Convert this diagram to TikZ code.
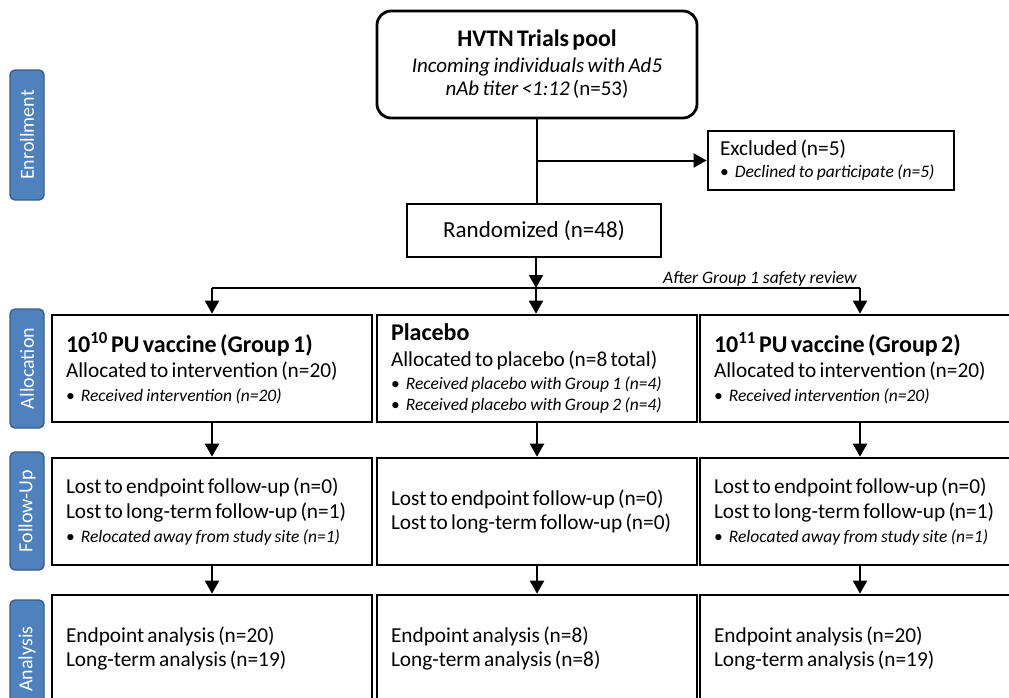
\documentclass[tikz,border=0pt]{standalone}
\usepackage{fontspec}
\setmainfont{Carlito}
\usetikzlibrary{arrows.meta}
\definecolor{sideblue}{HTML}{4F81BD}
\definecolor{sideedge}{HTML}{385D8A}
\newcommand{\ttl}[1]{{\fontsize{24}{24}\selectfont\bfseries #1\par}}
\newcommand{\lna}[2]{{\fontsize{21.3}{#1}\selectfont #2\par}}
\newcommand{\bul}[2]{{\fontsize{17.5}{#1}\selectfont\textbullet\hspace{0.35em}\textit{#2}\par}}
\begin{document}
\begin{tikzpicture}[x=1pt,y=-1pt,
  box/.style={draw, line width=2.6pt, minimum width=320pt, minimum height=107pt,
    inner xsep=13pt, inner ysep=0pt, text width=292pt, align=left},
  side/.style={draw=sideedge, fill=sideblue, line width=1.4pt, rounded corners=5pt,
    minimum height=34pt, text=white, rotate=90, inner sep=0pt,
    font=\fontsize{20}{20}\selectfont},
  conn/.style={line width=2pt},
  arr/.style={line width=2pt, -{Triangle[length=13pt,width=14pt]}}]
\useasboundingbox (0,0) rectangle (1009,697);

% side labels
\node[side, minimum width=130pt] (senr) at (27,135) {Enrollment};
\node[side, minimum width=119pt] (salloc) at (27,368.5) {Allocation};
\node[side, minimum width=118pt] (sfol) at (27,511) {Follow-Up};
\node[side, minimum width=118pt] (sana) at (27,659) {Analysis};

% enrollment
\node[draw, line width=2.8pt, rounded corners=14pt, minimum width=320pt, minimum height=107pt,
  inner sep=0pt, text width=300pt, align=center] (pool) at (537,64.5)
  {{\fontsize{23.8}{23.8}\selectfont\bfseries HVTN Trials pool\par}
   {\fontsize{21}{26}\selectfont\itshape Incoming individuals with Ad5\par}
   {\fontsize{21}{23}\selectfont\textit{nAb titer <1:12} (n=53)\par}};

\node[draw, line width=2.8pt, minimum width=246pt, minimum height=59pt,
  inner xsep=12pt, inner ysep=0pt, text width=222pt, align=left] (excl) at (831,160.5)
  {\lna{21}{Excluded (n=5)}\bul{22}{Declined to participate (n=5)}};

\node[draw, line width=2.8pt, minimum width=254pt, minimum height=53pt, inner sep=0pt,
  font=\fontsize{23}{23}\selectfont] (rand) at (534,230.5) {Randomized (n=48)};

% allocation
\node[box] (g1) at (212,368.5)
  {\ttl{10\textsuperscript{10} PU vaccine (Group 1)}\lna{25}{Allocated to intervention (n=20)}\bul{24}{Received intervention (n=20)}};
\node[box] (pl) at (537,368.5)
  {\ttl{Placebo}\lna{26}{Allocated to placebo (n=8 total)}\bul{23}{Received placebo with Group 1 (n=4)}\bul{21}{Received placebo with Group 2 (n=4)}};
\node[box] (g2) at (860,368.5)
  {\ttl{10\textsuperscript{11} PU vaccine (Group 2)}\lna{25}{Allocated to intervention (n=20)}\bul{24}{Received intervention (n=20)}};

% follow-up
\node[box] (f1) at (212,511.5)
  {\lna{21}{Lost to endpoint follow-up (n=0)}\lna{25}{Lost to long-term follow-up (n=1)}\bul{24}{Relocated away from study site (n=1)}};
\node[box] (fp) at (537,511.5)
  {\lna{21}{Lost to endpoint follow-up (n=0)}\lna{24}{Lost to long-term follow-up (n=0)}};
\node[box] (f2) at (860,511.5)
  {\lna{21}{Lost to endpoint follow-up (n=0)}\lna{25}{Lost to long-term follow-up (n=1)}\bul{24}{Relocated away from study site (n=1)}};

% analysis
\node[box] (a1) at (212,648.5)
  {\lna{21}{Endpoint analysis (n=20)}\lna{24}{Long-term analysis (n=19)}};
\node[box] (ap) at (537,648.5)
  {\lna{21}{Endpoint analysis (n=8)}\lna{24}{Long-term analysis (n=8)}};
\node[box] (a2) at (860,648.5)
  {\lna{21}{Endpoint analysis (n=20)}\lna{24}{Long-term analysis (n=19)}};

% connectors
\coordinate (branch) at (pool.south |- excl.west);
\coordinate (split) at (536,288);
\coordinate (splitL) at (g1.north |- split);
\coordinate (splitR) at (g2.north |- split);
\draw[conn] (pool.south) -- (rand.north -| pool.south);
\draw[arr] (branch) -- (excl.west);
\draw[arr] (rand.south -| split) -- (split);
\draw[conn] (splitL) -- (splitR);
\draw[arr] (splitL) -- (g1.north);
\draw[arr] (split) -- (split |- pl.north);
\draw[arr] (splitR) -- (g2.north);
\node[anchor=base west, inner sep=0pt, font=\fontsize{17.5}{17.5}\selectfont\itshape] (review) at (663,283) {After Group 1 safety review};

\draw[arr] (g1.south) -- (f1.north);
\draw[arr] (pl.south) -- (fp.north);
\draw[arr] (g2.south) -- (f2.north);
\draw[arr] (f1.south) -- (a1.north);
\draw[arr] (fp.south) -- (ap.north);
\draw[arr] (f2.south) -- (a2.north);
\end{tikzpicture}
\end{document}
